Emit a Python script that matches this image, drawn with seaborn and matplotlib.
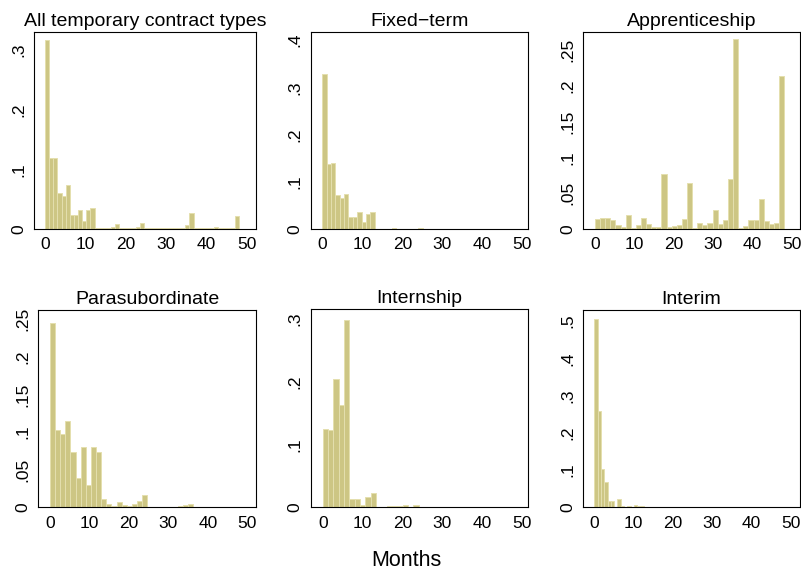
import numpy as np
import pandas as pd
import seaborn as sns
import matplotlib.pyplot as plt

sns.set_style("white")
plt.rcParams["font.family"] = ["Liberation Sans", "DejaVu Sans"]
plt.rcParams["text.color"] = "black"
plt.rcParams["xtick.color"] = "black"
plt.rcParams["ytick.color"] = "black"

titles = ["All temporary contract types", "Fixed\u2212term", "Apprenticeship",
          "Parasubordinate", "Internship", "Interim"]

# share of contracts per duration bin (months 0-48)
all_types = [0.316, 0.118, 0.119, 0.060, 0.055, 0.073, 0.023, 0.023, 0.032, 0.013,
             0.032, 0.035, 0.002, 0.002, 0.002, 0.001, 0.003, 0.008, 0.001, 0.001,
             0.001, 0.001, 0.003, 0.010, 0.001, 0.001, 0.001, 0.001, 0.001, 0.002,
             0.001, 0.001, 0.001, 0.001, 0.007, 0.027, 0.001, 0.001, 0.001, 0.001,
             0.001, 0.004, 0.001, 0.001, 0.001, 0.001, 0.022]
fixed_term = [0.328, 0.137, 0.139, 0.071, 0.065, 0.074, 0.026, 0.026, 0.037, 0.014,
              0.031, 0.035, 0.001, 0.001, 0.001, 0.001, 0.002, 0.001, 0.001, 0.001,
              0.0005, 0.0005, 0.002, 0.0005, 0.0005, 0.0005, 0.0005, 0.0005, 0.0005,
              0.0005, 0.0005, 0.0005, 0.0005, 0.001, 0.0005, 0.0005, 0.0005, 0.0005,
              0.0005, 0.0005, 0.0005, 0.0005, 0.0005, 0.0005]
apprenticeship = [0.0135, 0.016, 0.015, 0.012, 0.005, 0.003, 0.020, 0.002, 0.006, 0.016,
                  0.007, 0.003, 0.003, 0.077, 0.003, 0.004, 0.006, 0.014, 0.064, 0.002,
                  0.009, 0.005, 0.008, 0.027, 0.007, 0.012, 0.069, 0.265, 0.002, 0.004,
                  0.012, 0.012, 0.042, 0.011, 0.007, 0.008, 0.213]
parasubordinate = [0.245, 0.102, 0.097, 0.114, 0.073, 0.039, 0.080, 0.029, 0.080, 0.073,
                   0.011, 0.005, 0.002, 0.007, 0.003, 0.002, 0.004, 0.009, 0.016, 0.0005,
                   0.001, 0.001, 0.001, 0.001, 0.0005, 0.002, 0.003, 0.005, 0.0005, 0.0003,
                   0.0003, 0.0003, 0.0003, 0.0003, 0.0003, 0.0003, 0.001]
internship = [0.124, 0.123, 0.205, 0.163, 0.299, 0.013, 0.014, 0.004, 0.017, 0.022,
              0.001, 0.001, 0.002, 0.002, 0.002, 0.003, 0.001, 0.004, 0.001, 0.0,
              0.0, 0.0, 0.0, 0.0, 0.001, 0.0005, 0.001, 0.001, 0.0, 0.0,
              0.0, 0.0, 0.0, 0.001, 0.0, 0.0]
interim = [0.507, 0.258, 0.102, 0.068, 0.017, 0.016, 0.0, 0.022, 0.003, 0.001,
           0.003, 0.001, 0.006, 0.003, 0.003, 0.0005, 0.0005, 0.0005, 0.0005, 0.0005,
           0.0005, 0.001, 0.0003, 0.0003, 0.0003, 0.0003, 0.0003, 0.0003, 0.001] + [0.0] * 28

series = [all_types, fixed_term, apprenticeship, parasubordinate, internship, interim]
yticks = [[0, .1, .2, .3], [0, .1, .2, .3, .4], [0, .05, .1, .15, .2, .25],
          [0, .05, .1, .15, .2, .25], [0, .1, .2, .3], [0, .1, .2, .3, .4, .5]]
ytops = [0.330, 0.418, 0.275, 0.262, 0.316, 0.530]
xticks = [0, 10, 20, 30, 40, 50]

# axes boxes in pixels: left, top, right, bottom
W, H = 801, 574
boxes = [(34.3, 31.7, 256.0, 229.0), (311.0, 31.7, 528.3, 229.0), (583.3, 31.7, 799.6, 229.0),
         (38.3, 310.0, 256.0, 507.3), (311.0, 309.0, 528.3, 507.3), (583.3, 310.0, 799.6, 507.3)]
xlims = [(-2.65, 52.2), (-2.83, 51.5), (-2.96, 51.9), (-2.96, 52.2), (-2.93, 51.5), (-2.8, 52.3)]

fill = "#cdc684"
edge = "#e4dfae"


def fmt(v):
    s = f"{v:g}"
    return s[1:] if s.startswith("0.") else s


fig = plt.figure(figsize=(W / 100, H / 100), dpi=100)

for i, vals in enumerate(series):
    l, t, r, b = boxes[i]
    ax = fig.add_axes([l / W, 1 - b / H, (r - l) / W, (b - t) / H])
    width = 48 / len(vals)
    df = pd.DataFrame({"month": (np.arange(len(vals)) + 0.5) * width, "share": vals})
    sns.histplot(data=df, x="month", weights="share", binwidth=width, binrange=(0, 48),
                 ax=ax, color=fill, edgecolor=edge, linewidth=0.7, alpha=1)
    ax.set_xlim(*xlims[i])
    ax.set_ylim(0, ytops[i])
    ax.set_xticks(xticks)
    ax.set_xticklabels([str(x) for x in xticks], fontsize=12.5)
    ax.set_yticks(yticks[i])
    ax.set_yticklabels([fmt(v) for v in yticks[i]], fontsize=12.5, rotation=90, va="center")
    ax.set_xlabel("")
    ax.set_ylabel("")
    ax.tick_params(axis="both", direction="out", length=4, width=0.8, color="black",
                   labelcolor="black", pad=2)
    for s in ax.spines.values():
        s.set_color("black")
        s.set_linewidth(0.8)
    ax.set_title(titles[i], fontsize=14, pad=4, color="black")

fig.text(0.507, 1 - 561 / H, "Months", ha="center", va="center", fontsize=15.5, color="black")

fig.savefig("out.png", dpi=100)
